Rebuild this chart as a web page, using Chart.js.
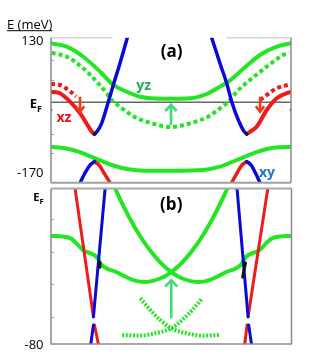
<!DOCTYPE html>
<html>
<head>
<meta charset="utf-8">
<script src="https://cdn.jsdelivr.net/npm/chart.js@4.4.0/dist/chart.umd.min.js"></script>
<style>
html, body { margin: 0; padding: 0; background: #fff; }
#wrap { position: relative; width: 329px; height: 359px; }
canvas { position: absolute; left: 0; top: 0; }
</style>
</head>
<body>
<div id="wrap">
  <canvas id="cA" width="329" height="359"></canvas>
  <canvas id="cB" width="329" height="359"></canvas>
</div>
<script>
// k in units of pi/a (-1..1), E in meV

// ---- panel (a) ----
const yzUpper = [[-1,118.7],[-0.869,111.9],[-0.731,91.7],[-0.592,62],[-0.481,35],[-0.369,21.3],[-0.258,11.3],[-0.133,7.6],[0,7],[0.158,8],[0.298,16.7],[0.408,31.4],[0.492,44],[0.6,67],[0.742,95.2],[0.881,111.9],[1,118.7]];
const yzUpperShift = [[-0.994,99.8],[-0.869,91.7],[-0.731,68.4],[-0.619,41.4],[-0.536,18.1],[-0.494,4.6],[-0.408,-12.1],[-0.298,-30.2],[-0.158,-42.3],[0,-49.8],[0.158,-42.3],[0.298,-30.2],[0.408,-12.1],[0.492,4.6],[0.548,21.3],[0.658,44.9],[0.798,71.6],[0.936,95.2],[0.983,99.2]];
const xzLeft = [[-1,21.5],[-0.925,18.1],[-0.842,1.2],[-0.758,-22.1],[-0.69,-48],[-0.66,-59],[-0.639,-63.8]];
const xyLeft = [[-0.639,-63.8],[-0.62,-60],[-0.578,-42.3],[-0.522,1.2],[-0.481,34.8],[-0.425,78.5],[-0.364,130]];
const xyRight = [[0.339,130],[0.408,78.5],[0.464,38.2],[0.506,1.2],[0.561,-35.6],[0.61,-59],[0.631,-63.8]];
const xzRight = [[0.631,-63.8],[0.655,-60],[0.714,-49.1],[0.798,-15.5],[0.881,8],[0.978,19.3],[1,20.7]];
const xzShiftLeft = [[-1,37],[-0.925,34.8],[-0.856,24.7],[-0.79,12]];
const xzShiftRight = [[0.742,4.6],[0.798,14.7],[0.881,28.2],[0.983,35.5]];
const yzLower = [[-1,-89.3],[-0.883,-92.6],[-0.772,-99.4],[-0.633,-112.7],[-0.494,-126.2],[-0.356,-134.8],[-0.217,-137.6],[0,-137.6],[0.269,-136.2],[0.408,-129.6],[0.548,-116.1],[0.686,-102.6],[0.825,-92.6],[1,-89.3]];
const xyLowLeft = [[-0.758,-161.8],[-0.717,-142.3],[-0.675,-126.2],[-0.639,-119.5]];
const xzLowLeft = [[-0.639,-119.5],[-0.6,-126.2],[-0.558,-142.3],[-0.508,-161.8]];
const xzLowRight = [[0.506,-161.8],[0.55,-142.3],[0.592,-126.2],[0.631,-119.5]];
const xyLowRight = [[0.631,-119.5],[0.667,-126.2],[0.704,-142.3],[0.742,-161.8]];
const fermiA = [[-1,0],[1,0]];
const dotsA = [[-0.639,-63.8],[0.631,-63.8],[-1,-15.5],[1,-15.5]];
const ticksA = [130, 0, -141.6];
const tickTextA = ['130', 'E', '-170'];
const minorTicksA = [85, 45, -64, -103];
// arrows: [k, from E, to E]
const greenArrowsA = [[0, -45.7, -5.4]];
const redArrowsA = [[-0.758, 11.3, -18.9], [0.742, 11.3, -18.9]];

// ---- panel (b) ----
const gBandOne = [[-0.467,0],[-0.392,-9.7],[-0.317,-18.5],[-0.242,-26.1],[-0.175,-31.9],[-0.092,-38],[0,-43],[0.092,-46.3],[0.225,-48.1],[0.317,-47.1],[0.453,-43.1],[0.592,-38.3],[0.606,-36.3],[0.733,-31.7],[0.842,-25.5],[1,-24.3]];
const gBandTwo = [[-1,-24.3],[-0.842,-25.5],[-0.733,-31.7],[-0.606,-36.3],[-0.592,-38.3],[-0.453,-43.1],[-0.317,-47.1],[-0.225,-48.1],[-0.092,-46.3],[0,-43],[0.092,-38],[0.175,-31.9],[0.242,-26.1],[0.317,-18.5],[0.392,-9.7],[0.467,0]];
const gShiftOne = [[-0.258,-56.5],[-0.175,-62.5],[-0.092,-67.6],[0,-71.9],[0.131,-74.5],[0.267,-75.7],[0.408,-75.4]];
const gShiftTwo = [[-0.408,-75.4],[-0.269,-75.7],[-0.133,-74.5],[0,-71.9],[0.092,-67.6],[0.175,-62.5],[0.258,-56.5]];
const redBL = [[-0.8,0],[-0.647,-66]];
const blueBL = [[-0.647,-66],[-0.55,0]];
const blueBR = [[0.547,0],[0.639,-66]];
const redBR = [[0.639,-66],[0.803,0]];
const blueBLlow = [[-0.669,-80],[-0.647,-70.2]];
const redBLlow = [[-0.639,-70.2],[-0.606,-80]];
const redBRlow = [[0.611,-80],[0.631,-70.2]];
const blueBRlow = [[0.644,-70.2],[0.667,-80]];
const blackBL = [[-0.6,-38],[-0.594,-40.5]];
const blackBR = [[0.594,-45.5],[0.617,-38.3]];
const ticksB = [0, -80];
const tickTextB = ['E', '-80'];
const minorTicksB = [-15.7, -32.7, -49.2, -66.2];
const greenArrowsB = [[0, -66.8, -47.1]];

const GREEN = '#22e622', RED = '#ee1b1b', BLUE = '#0a0ad8';
const FONT = '"Open Sans", "Liberation Sans", sans-serif';

const pts = arr => arr.map(([x, y]) => ({ x, y }));

function band(data, color, width, dash, straight) {
  return {
    data: pts(data),
    showLine: true,
    borderColor: color,
    borderWidth: width,
    borderDash: dash || [],
    borderCapStyle: dash ? 'butt' : 'round',
    borderJoinStyle: 'round',
    pointRadius: 0,
    cubicInterpolationMode: straight ? 'default' : 'monotone',
    tension: 0,
    fill: false
  };
}

function drawArrow(ctx, xs, ys, a, color, hw, hl) {
  const px = xs.getPixelForValue(a[0]);
  const y0 = ys.getPixelForValue(a[1]);
  const y1 = ys.getPixelForValue(a[2]);
  const dir = y1 < y0 ? 1 : -1;
  ctx.strokeStyle = color;
  ctx.lineWidth = 2.6;
  ctx.lineCap = 'butt';
  ctx.beginPath();
  ctx.moveTo(px, y0);
  ctx.lineTo(px, y1 + dir);
  ctx.stroke();
  ctx.lineJoin = 'miter';
  ctx.beginPath();
  ctx.moveTo(px - hw, y1 + dir * hl);
  ctx.lineTo(px, y1);
  ctx.lineTo(px + hw, y1 + dir * hl);
  ctx.stroke();
}

function drawEF(ctx, xRight, yMid, big, small) {
  ctx.textAlign = 'right';
  ctx.textBaseline = 'alphabetic';
  ctx.font = 'bold ' + small + 'px ' + FONT;
  const wF = ctx.measureText('F').width;
  ctx.font = 'bold ' + big + 'px ' + FONT;
  ctx.fillText('E', xRight - wF, yMid + big * 0.36);
  ctx.font = 'bold ' + small + 'px ' + FONT;
  ctx.fillText('F', xRight, yMid + big * 0.36 + small * 0.35);
}

function leftTicks(ctx, ys, left, values) {
  ctx.strokeStyle = '#9a9a9a';
  ctx.lineWidth = 1;
  values.forEach(v => {
    const py = Math.round(ys.getPixelForValue(v)) + 0.5;
    ctx.beginPath();
    ctx.moveTo(left, py);
    ctx.lineTo(left + 3, py);
    ctx.stroke();
  });
}

const panelA = {
  id: 'panelA',
  afterDatasetsDraw(chart) {
    const { ctx, chartArea: a, scales: { x, y } } = chart;
    ctx.save();
    // frame
    ctx.lineWidth = 1.5;
    ctx.strokeStyle = '#d2d2d2';
    ctx.beginPath();
    ctx.moveTo(a.left, a.top); ctx.lineTo(x.getPixelForValue(-0.49), a.top);
    ctx.moveTo(x.getPixelForValue(0.465), a.top); ctx.lineTo(a.right, a.top);
    ctx.stroke();
    ctx.strokeStyle = '#8a8a8a';
    ctx.lineWidth = 1.5;
    ctx.beginPath();
    ctx.moveTo(a.left, a.top); ctx.lineTo(a.left, a.bottom);
    ctx.moveTo(a.right, a.top); ctx.lineTo(a.right, a.bottom);
    ctx.stroke();
    ctx.lineWidth = 2;
    ctx.strokeStyle = '#a0a0a0';
    ctx.beginPath();
    ctx.moveTo(a.left, a.bottom); ctx.lineTo(a.right, a.bottom);
    ctx.stroke();
    leftTicks(ctx, y, a.left, minorTicksA);
    // arrows
    greenArrowsA.forEach(ar => drawArrow(ctx, x, y, ar, '#3ddc78', 5.7, 6));
    redArrowsA.forEach(ar => drawArrow(ctx, x, y, ar, '#f03a1a', 4.2, 5.5));
    // axis labels
    ctx.fillStyle = '#000';
    ctx.font = '13px ' + FONT;
    ctx.textAlign = 'left';
    ctx.textBaseline = 'alphabetic';
    ctx.fillText('E (meV)', 7, 28.5);
    const w = ctx.measureText('E (meV)').width;
    ctx.fillRect(7, 30.2, w, 1);
    ticksA.forEach((v, i) => {
      const py = y.getPixelForValue(v);
      if (tickTextA[i] === 'E') {
        drawEF(ctx, 42, py + 1.5, 13, 9);
      } else {
        ctx.font = '13px ' + FONT;
        ctx.textAlign = 'right';
        ctx.textBaseline = 'middle';
        ctx.fillText(tickTextA[i], 43.5, py + (v === 130 ? 4 : 1));
      }
    });
    // band labels
    ctx.textAlign = 'center';
    ctx.textBaseline = 'middle';
    ctx.font = 'bold 17px ' + FONT;
    ctx.fillStyle = '#000';
    ctx.fillText('(a)', x.getPixelForValue(0.006), y.getPixelForValue(101.8));
    ctx.font = 'bold 14px ' + FONT;
    ctx.fillStyle = '#22b04c';
    ctx.fillText('yz', x.getPixelForValue(-0.228), y.getPixelForValue(33));
    ctx.fillStyle = '#f01010';
    ctx.fillText('xz', x.getPixelForValue(-0.892), y.getPixelForValue(-32.6));
    ctx.fillStyle = '#1f74d0';
    ctx.fillText('xy', x.getPixelForValue(0.8), y.getPixelForValue(-142.2));
    ctx.restore();
  }
};

const panelB = {
  id: 'panelB',
  afterDatasetsDraw(chart) {
    const { ctx, chartArea: a, scales: { x, y } } = chart;
    ctx.save();
    ctx.strokeStyle = '#a8a8a8';
    ctx.lineWidth = 2;
    ctx.beginPath();
    ctx.moveTo(a.left, a.top); ctx.lineTo(a.right, a.top);
    ctx.stroke();
    ctx.strokeStyle = '#8a8a8a';
    ctx.lineWidth = 1.5;
    ctx.beginPath();
    ctx.moveTo(a.left, a.top); ctx.lineTo(a.left, a.bottom); ctx.lineTo(a.right, a.bottom); ctx.lineTo(a.right, a.top);
    ctx.stroke();
    leftTicks(ctx, y, a.left, minorTicksB);
    greenArrowsB.forEach(ar => drawArrow(ctx, x, y, ar, '#3ddc78', 6, 6.5));
    ctx.fillStyle = '#000';
    ticksB.forEach((v, i) => {
      const py = y.getPixelForValue(v);
      if (tickTextB[i] === 'E') {
        drawEF(ctx, 43.5, py + 8.5, 11, 7.5);
      } else {
        ctx.font = '13px ' + FONT;
        ctx.textAlign = 'right';
        ctx.textBaseline = 'middle';
        ctx.fillText(tickTextB[i], 43.5, py + 1);
      }
    });
    ctx.textAlign = 'center';
    ctx.textBaseline = 'middle';
    ctx.font = 'bold 17px ' + FONT;
    ctx.fillText('(b)', x.getPixelForValue(0), y.getPixelForValue(-8.7));
    ctx.restore();
  }
};

function baseOptions(yMin, yMax, pad) {
  return {
    responsive: false,
    animation: false,
    devicePixelRatio: 1,
    layout: { padding: pad },
    plugins: { legend: { display: false }, tooltip: { enabled: false } },
    scales: {
      x: { type: 'linear', min: -1, max: 1, display: false },
      y: { type: 'linear', min: yMin, max: yMax, display: false }
    }
  };
}

const dotSet = {
  data: pts(dotsA),
  showLine: false,
  pointStyle: 'rect',
  pointRadius: 1.6,
  pointBackgroundColor: '#111',
  pointBorderWidth: 0
};

new Chart(document.getElementById('cA'), {
  type: 'scatter',
  data: {
    datasets: [
      dotSet,
      band(xyLeft, BLUE, 3.5),
      band(xyRight, BLUE, 3.5),
      band(xyLowLeft, BLUE, 3.5),
      band(xyLowRight, BLUE, 3.5),
      band(xzLeft, RED, 4),
      band(xzRight, RED, 4),
      band(xzLowLeft, RED, 3.5),
      band(xzLowRight, RED, 3.5),
      band(xzShiftLeft, RED, 4, [4, 3]),
      band(xzShiftRight, RED, 4, [4, 3]),
      band(yzUpper, GREEN, 4),
      band(yzLower, GREEN, 4),
      band(yzUpperShift, GREEN, 4, [4, 3]),
      band(fermiA, '#666666', 1.5, null, true)
    ]
  },
  options: baseOptions(-161.8, 130, { left: 51, right: 38, top: 37.7, bottom: 176.3 }),
  plugins: [panelA]
});

new Chart(document.getElementById('cB'), {
  type: 'scatter',
  data: {
    datasets: [
      band(blackBL, '#111', 3, null, true),
      band(blackBR, '#111', 3, null, true),
      band(blueBL, BLUE, 3, null, true),
      band(blueBR, BLUE, 3, null, true),
      band(redBL, RED, 3, null, true),
      band(redBR, RED, 3, null, true),
      band(blueBLlow, BLUE, 3, null, true),
      band(blueBRlow, BLUE, 3, null, true),
      band(redBLlow, RED, 3, null, true),
      band(redBRlow, RED, 3, null, true),
      band(gBandOne, GREEN, 4),
      band(gBandTwo, GREEN, 4),
      band(gShiftOne, GREEN, 4, [2, 1.6]),
      band(gShiftTwo, GREEN, 4, [2, 1.6])
    ]
  },
  options: baseOptions(-80, 0, { left: 51, right: 37.5, top: 188.5, bottom: 15 }),
  plugins: [panelB]
});
</script>
</body>
</html>
